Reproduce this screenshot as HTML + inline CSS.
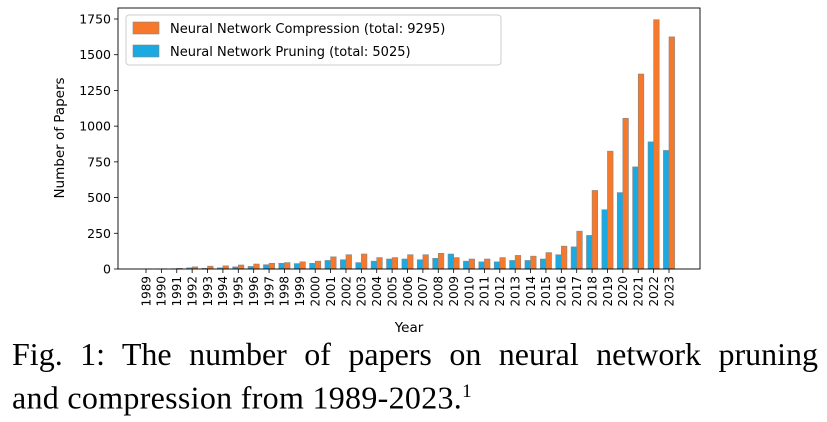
<!DOCTYPE html>
<html><head><meta charset="utf-8"><style>
body{margin:0;background:#fff;width:827px;height:422px;overflow:hidden}
svg text{font-family:"DejaVu Sans","Liberation Sans",sans-serif}
.cap{position:absolute;left:12px;top:335px;width:806px;font-family:"Liberation Serif",serif;font-size:32px;line-height:38px;color:#000;white-space:nowrap}
.l1{text-align:justify;text-align-last:justify}
</style></head><body>
<svg id="chart" width="827" height="335" style="position:absolute;left:0;top:0"></svg>
<div class="cap"><div class="l1">Fig. 1: The number of papers on neural network pruning</div><div style="letter-spacing:0.3px">and compression from 1989-2023.<sup style="font-size:19px">1</sup></div></div>
<script>
const years=[1989,1990,1991,1992,1993,1994,1995,1996,1997,1998,1999,2000,2001,2002,2003,2004,2005,2006,2007,2008,2009,2010,2011,2012,2013,2014,2015,2016,2017,2018,2019,2020,2021,2022,2023];
const compression=[1,2,5,15,20,22,28,35,40,45,50,55,85,100,105,80,80,100,100,110,80,70,70,80,95,90,115,160,265,550,825,1055,1365,1745,1625];
const pruning=[0,1,2,8,5,8,15,18,30,40,38,40,60,65,45,55,70,70,65,75,105,55,50,50,60,60,70,100,155,235,415,535,715,890,830];
const yTicks=[0,250,500,750,1000,1250,1500,1750];
const NS="http://www.w3.org/2000/svg";
const svg=document.getElementById('chart');
const L=118,R=700,T=8,B=269;
const y=v=>B-v*(B-19)/1750;
const x=i=>146+i*(669-146)/34;
function el(t,a,p){const e=document.createElementNS(NS,t);for(const k in a)e.setAttribute(k,a[k]);(p||svg).appendChild(e);return e;}
const bw=5.6;
years.forEach((yr,i)=>{
 const b=el('rect',{x:x(i)-bw,y:y(pruning[i]),width:bw,height:B-y(pruning[i]),fill:'#1ba9e1',stroke:'#888','stroke-width':0.6});
 
 
 const c=el('rect',{x:x(i),y:y(compression[i]),width:bw,height:B-y(compression[i]),fill:'#f5782b',stroke:'#888','stroke-width':0.6});
 
 
 el('line',{x1:x(i),x2:x(i),y1:B,y2:B+4,stroke:'#000','stroke-width':0.8});
 const t=el('text',{x:0,y:0,'font-size':12,'text-anchor':'end',transform:`translate(${x(i)+4.3},${B+7}) rotate(-90)`});
 t.textContent=yr;
 
 
});
yTicks.forEach(v=>{
 el('line',{x1:L-4,x2:L,y1:y(v),y2:y(v),stroke:'#000','stroke-width':0.8});
 const t=el('text',{x:L-7,y:y(v)+4.5,'font-size':12.5,'text-anchor':'end'});
 t.textContent=v;
 
 
});
el('rect',{x:L,y:T,width:R-L,height:B-T,fill:'none',stroke:'#000','stroke-width':0.9});
const xt=el('text',{x:409,y:332,'font-size':13.5,'text-anchor':'middle'});xt.textContent='Year';


const yt=el('text',{x:0,y:0,'font-size':13.5,'text-anchor':'middle',transform:'translate(64,138) rotate(-90)'});yt.textContent='Number of Papers';


const lg=el('g',{});


el('rect',{x:126,y:15,width:375,height:50,rx:3,fill:'#fff',stroke:'#ccc','stroke-width':1},lg);
el('rect',{x:133,y:22,width:26,height:12,fill:'#f5782b',stroke:'#888','stroke-width':0.6},lg);
el('rect',{x:133,y:45,width:26,height:12,fill:'#1ba9e1',stroke:'#888','stroke-width':0.6},lg);
const l1=el('text',{x:170,y:33,'font-size':13},lg);l1.textContent='Neural Network Compression (total: 9295)';


const l2=el('text',{x:170,y:56,'font-size':13},lg);l2.textContent='Neural Network Pruning (total: 5025)';


</script>
</body></html>
